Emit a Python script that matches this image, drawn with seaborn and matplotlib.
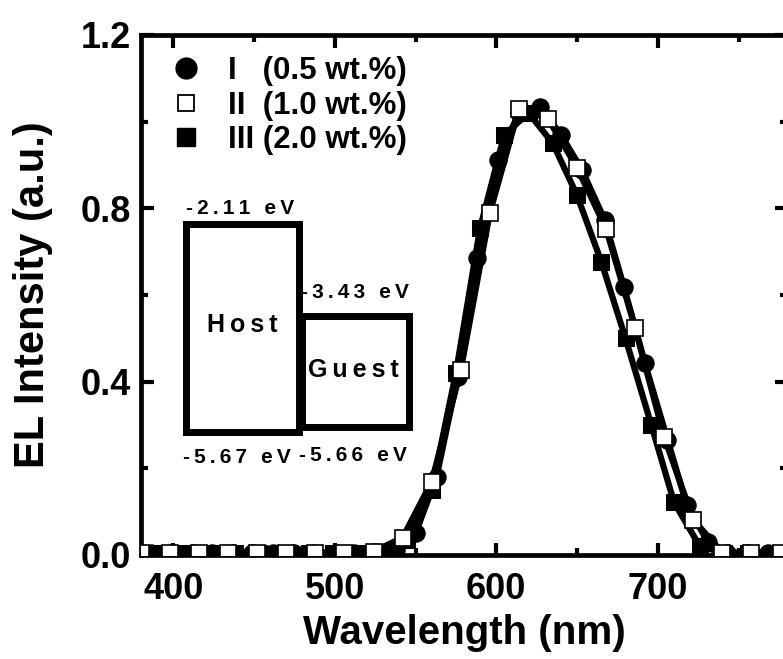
import matplotlib
matplotlib.use("Agg")
import matplotlib.pyplot as plt
import seaborn as sns
import pandas as pd
from matplotlib.lines import Line2D
from matplotlib.patches import Rectangle
from matplotlib.ticker import MultipleLocator

# ---- data ----
wl_I = [386, 399, 412, 424, 437, 449, 462, 475, 487, 500, 512, 525, 538, 550, 563, 576,
        588, 601, 614, 627, 640, 653, 667, 679, 692, 706, 718, 731, 743, 756, 768]
int_I = [0.005, 0.005, 0.005, 0.005, 0.005, 0.005, 0.005, 0.005, 0.005, 0.005, 0.005, 0.006,
         0.012, 0.05, 0.18, 0.41, 0.686, 0.912, 1.02, 1.035, 0.97, 0.889, 0.774, 0.619,
         0.443, 0.266, 0.115, 0.03, 0.005, 0.005, 0.005]

wl_II = [380, 398, 416, 434, 452, 470, 488, 506, 524, 542, 560, 578, 596, 614, 632, 650,
         668, 686, 704, 722, 740, 758, 776]
int_II = [0.005, 0.005, 0.005, 0.005, 0.005, 0.005, 0.005, 0.005, 0.008, 0.04, 0.169, 0.427,
          0.79, 1.03, 1.007, 0.894, 0.753, 0.524, 0.272, 0.081, 0.005, 0.005, 0.005]

wl_III = [393, 408, 423, 438, 453, 469, 484, 499, 514, 529, 545, 560, 575, 590, 605, 620,
          635, 650, 665, 680, 696, 710, 726, 741, 756, 771]
int_III = [0.005, 0.005, 0.005, 0.005, 0.005, 0.005, 0.005, 0.005, 0.005, 0.007, 0.035, 0.15,
           0.42, 0.755, 0.97, 1.02, 0.95, 0.83, 0.677, 0.50, 0.30, 0.122, 0.02, 0.005,
           0.005, 0.005]

labels = ["I   (0.5 wt.%)", "II  (1.0 wt.%)", "III (2.0 wt.%)"]
x_ticks = [400, 500, 600, 700]
y_ticks = [0.0, 0.4, 0.8, 1.2]

sns.set_theme(style="ticks")
plt.rcParams["font.family"] = ["Liberation Sans", "DejaVu Sans"]
plt.rcParams.update({
    "font.weight": "bold",
    "axes.labelweight": "bold",
    "text.color": "black",
    "axes.labelcolor": "black",
    "xtick.color": "black",
    "ytick.color": "black",
    "axes.edgecolor": "black",
})

fig = plt.figure(figsize=(7.83, 6.59), dpi=100)
ax = fig.add_axes([141 / 783, 104 / 659, 646 / 783, 520 / 659])

dfI = pd.DataFrame({"wl": wl_I, "I": int_I})
dfII = pd.DataFrame({"wl": wl_II, "I": int_II})
dfIII = pd.DataFrame({"wl": wl_III, "I": int_III})

lw = 4.5
sns.lineplot(data=dfI, x="wl", y="I", ax=ax, color="black", lw=lw, marker="o",
             markersize=12.5, markerfacecolor="black", markeredgecolor="black",
             sort=False, zorder=3, legend=False)
sns.lineplot(data=dfIII, x="wl", y="I", ax=ax, color="black", lw=lw, marker="s",
             markersize=11.5, markerfacecolor="black", markeredgecolor="black",
             sort=False, zorder=4, legend=False)
sns.lineplot(data=dfII, x="wl", y="I", ax=ax, color="black", lw=lw, marker="s",
             markersize=12, markerfacecolor="white", markeredgecolor="black",
             markeredgewidth=1.2, sort=False, zorder=5, legend=False)

ax.set_xlim(380, 780)
ax.set_ylim(0, 1.2)
ax.set_xticks(x_ticks)
ax.set_yticks(y_ticks)
ax.set_yticklabels([f"{v:.1f}" for v in y_ticks])
ax.xaxis.set_minor_locator(MultipleLocator(50))
ax.yaxis.set_minor_locator(MultipleLocator(0.2))
ax.tick_params(which="both", direction="in", top=True, right=True, width=3,
               labelsize=26)
ax.tick_params(axis="x", pad=12)
ax.tick_params(axis="y", pad=7)
ax.tick_params(which="major", length=9)
ax.tick_params(which="minor", length=5)
for lab in ax.get_xticklabels() + ax.get_yticklabels():
    lab.set_fontweight("bold")
for s in ax.spines.values():
    s.set_linewidth(3.4)
    s.set_color("black")

ax.set_xlabel("Wavelength (nm)", fontsize=29, fontweight="bold", labelpad=5)
ax.set_ylabel("EL Intensity (a.u.)", fontsize=30, fontweight="bold", labelpad=20)

handles = [
    Line2D([], [], ls="none", marker="o", ms=15, mfc="black", mec="black"),
    Line2D([], [], ls="none", marker="s", ms=11, mfc="white", mec="black", mew=1.3),
    Line2D([], [], ls="none", marker="s", ms=13, mfc="black", mec="black"),
]
ax.legend(handles, labels, loc="upper left", bbox_to_anchor=(0.009, 1.005), frameon=False,
          handlelength=1.0, handletextpad=0.85, labelspacing=0.15, borderaxespad=0.35,
          prop={"weight": "bold", "size": 22.5})

# energy-level inset (axes-fraction coordinates)
ax.add_patch(Rectangle((0.069, 0.2375), 0.175, 0.40, transform=ax.transAxes,
                       fill=False, lw=5, ec="black", zorder=6))
ax.add_patch(Rectangle((0.2485, 0.247), 0.167, 0.2135, transform=ax.transAxes,
                       fill=False, lw=5, ec="black", zorder=6))
tk = dict(transform=ax.transAxes, ha="center", va="center", fontweight="bold")
ts = "\u2009"
def spaced(s):
    return ts.join(s)
ax.text(0.153, 0.667, spaced("-2.11 eV"), fontsize=15, **tk)
ax.text(0.331, 0.504, spaced("-3.43 eV"), fontsize=15, **tk)
ax.text(0.149, 0.187, spaced("-5.67 eV"), fontsize=15, **tk)
ax.text(0.328, 0.192, spaced("-5.66 eV"), fontsize=15, **tk)
ax.text(0.156, 0.442, spaced("Host"), fontsize=18, **tk)
ax.text(0.328, 0.356, spaced("Guest"), fontsize=18, **tk)

fig.savefig("out.png", dpi=100)
